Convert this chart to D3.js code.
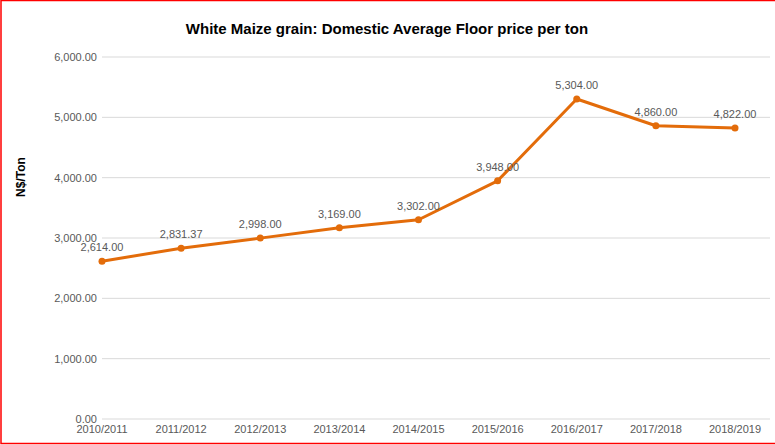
<!DOCTYPE html>
<html>
<head>
<meta charset="utf-8">
<script src="https://cdn.jsdelivr.net/npm/d3@7"></script>
<style>
  body { margin: 0; background: #fff; }
  svg { display: block; font-family: "Liberation Sans", Arial, sans-serif; }
</style>
</head>
<body>
<svg id="chart" width="775" height="445"></svg>
<script>
    "use strict";

    // chart data
    const seasons = ["2010/2011", "2011/2012", "2012/2013", "2013/2014", "2014/2015",
        "2015/2016", "2016/2017", "2017/2018", "2018/2019"];
    const floorPrices = [2614.00, 2831.37, 2998.00, 3169.00, 3302.00, 3948.00, 5304.00, 4860.00, 4822.00];
    const yTicks = [0, 1000, 2000, 3000, 4000, 5000, 6000];

    const LINE_COLOR = "#e36c0a";
    const svg = d3.select("#chart");

    // outer red frame
    svg.append("rect")
        .attr("x", 1).attr("y", 0.5).attr("width", 790).attr("height", 443)
        .attr("fill", "none").attr("stroke", "#ff0000").attr("stroke-width", 1.5);

    let x = d3.scalePoint().domain(seasons).range([102, 735]);
    let y = d3.scaleLinear().domain([0, 6000]).range([419, 57]);
    let fmt = d3.format(",.2f");

    // gridlines + y labels
    svg.selectAll(".grid").data(yTicks).enter().append("line")
        .attr("x1", 102).attr("x2", 770)
        .attr("y1", d => y(d)).attr("y2", d => y(d))
        .attr("stroke", "#d9d9d9").attr("stroke-width", 1);

    svg.selectAll(".ylab").data(yTicks).enter().append("text")
        .attr("x", 97).attr("y", d => y(d) + 4)
        .attr("text-anchor", "end").attr("font-size", 11).attr("fill", "#595959")
        .text(d => fmt(d));

    svg.selectAll(".xlab").data(seasons).enter().append("text")
        .attr("x", d => x(d)).attr("y", 433)
        .attr("text-anchor", "middle").attr("font-size", 11).attr("fill", "#595959")
        .text(d => d);

    svg.append("text")
        .attr("transform", "translate(25,177) rotate(-90)")
        .attr("text-anchor", "middle").attr("font-size", 12).attr("font-weight", "bold")
        .text("N$/Ton");

    svg.append("text")
        .attr("x", 387).attr("y", 34).attr("text-anchor", "middle")
        .attr("font-size", 15).attr("font-weight", "bold").attr("fill", "#000")
        .text("White Maize grain: Domestic Average Floor price per ton");

    let line = d3.line()
        .x((d, i) => x(seasons[i]))
        .y(d => y(d));

    svg.append("path").datum(floorPrices)
        .attr("d", line).attr("fill", "none")
        .attr("stroke", LINE_COLOR).attr("stroke-width", 3).attr("stroke-linejoin", "round");

    svg.selectAll(".pt").data(floorPrices).enter().append("circle")
        .attr("cx", (d, i) => x(seasons[i])).attr("cy", d => y(d))
        .attr("r", 3.5).attr("fill", LINE_COLOR);

    svg.selectAll(".val").data(floorPrices).enter().append("text")
        .attr("x", (d, i) => x(seasons[i])).attr("y", d => y(d) - 10)
        .attr("text-anchor", "middle").attr("font-size", 11).attr("fill", "#595959")
        .text(d => fmt(d));
</script>
</body>
</html>
